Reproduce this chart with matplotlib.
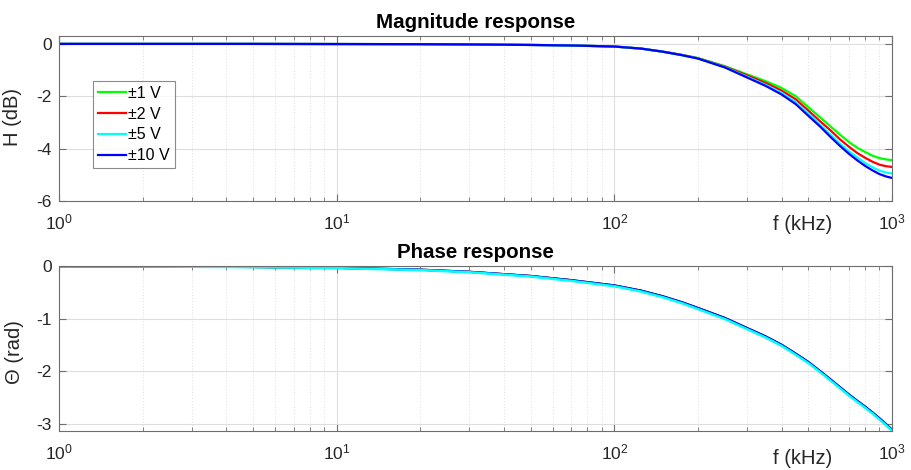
import matplotlib
matplotlib.use("Agg")
import matplotlib.pyplot as plt
from matplotlib.ticker import LogLocator, NullFormatter

plt.rcParams['font.family'] = ['Liberation Sans', 'DejaVu Sans']
plt.rcParams['mathtext.fontset'] = 'custom'
plt.rcParams['mathtext.rm'] = 'Liberation Sans'
plt.rcParams['mathtext.it'] = 'Liberation Sans:italic'
plt.rcParams['axes.unicode_minus'] = False

# frequency axis (kHz)
freq = [1, 2, 5, 10, 20, 30, 50, 70, 100, 125, 150, 175, 200, 250, 300, 350,
        400, 450, 500, 550, 600, 650, 700, 750, 800, 850, 900, 950, 1000]

# magnitude (dB) for each input range
mag_1v = [0, 0, 0, -0.005, -0.01, -0.02, -0.04, -0.06, -0.10, -0.18, -0.30,
          -0.42, -0.54, -0.85, -1.16, -1.42, -1.68, -2.00, -2.42, -2.80,
          -3.15, -3.47, -3.75, -3.97, -4.13, -4.27, -4.36, -4.41, -4.44]
mag_2v = [0, 0, 0, -0.005, -0.01, -0.02, -0.04, -0.06, -0.10, -0.18, -0.30,
          -0.42, -0.55, -0.87, -1.20, -1.49, -1.78, -2.12, -2.55, -2.95,
          -3.30, -3.65, -3.93, -4.17, -4.35, -4.50, -4.61, -4.67, -4.70]
mag_5v = [0, 0, 0, -0.005, -0.01, -0.02, -0.04, -0.06, -0.10, -0.18, -0.30,
          -0.43, -0.555, -0.89, -1.25, -1.56, -1.87, -2.23, -2.67, -3.08,
          -3.46, -3.81, -4.10, -4.34, -4.55, -4.71, -4.84, -4.91, -4.95]
mag_10v = [0, 0, 0, -0.005, -0.01, -0.02, -0.04, -0.06, -0.10, -0.18, -0.30,
           -0.43, -0.56, -0.90, -1.28, -1.60, -1.93, -2.30, -2.75, -3.15,
           -3.55, -3.90, -4.20, -4.45, -4.66, -4.83, -4.97, -5.06, -5.12]

# phase (rad); the +/-5 V trace sits a hair below the others
phase_main = [-0.004, -0.007, -0.018, -0.035, -0.07, -0.11, -0.19, -0.27,
              -0.37, -0.47, -0.58, -0.69, -0.80, -0.99, -1.18, -1.34, -1.50,
              -1.67, -1.83, -2.00, -2.16, -2.31, -2.45, -2.57, -2.68, -2.79,
              -2.90, -3.01, -3.12]
phase_5v = [-0.005, -0.009, -0.021, -0.04, -0.077, -0.118, -0.2, -0.283,
            -0.385, -0.487, -0.598, -0.708, -0.82, -1.01, -1.2, -1.36, -1.52,
            -1.69, -1.85, -2.02, -2.18, -2.33, -2.47, -2.59, -2.70, -2.81,
            -2.92, -3.03, -3.14]

labels = ['\u00b11 V', '\u00b12 V', '\u00b15 V', '\u00b110 V']
colors = ['#00ff00', '#ff0000', '#00ffff', '#0000ff']
mags = [mag_1v, mag_2v, mag_5v, mag_10v]

fig = plt.figure(figsize=(9.11, 4.70), dpi=100)
ax1 = fig.add_axes([0.0648, 0.5723, 0.9144, 0.351])
ax2 = fig.add_axes([0.0648, 0.083, 0.9144, 0.351])


def style_axes(ax):
    ax.set_xscale('log')
    ax.set_xlim(1, 1000)
    ax.xaxis.set_minor_locator(LogLocator(base=10, subs=range(2, 10)))
    ax.xaxis.set_minor_formatter(NullFormatter())
    ax.grid(True, which='major', color='#dedede', linewidth=0.8)
    ax.grid(True, which='minor', axis='x', color='#e4e4e4',
            linestyle=':', linewidth=0.8)
    ax.set_axisbelow(True)
    ax.tick_params(which='both', direction='in', top=True, right=True,
                   colors='#6e6e6e', labelcolor='#262626', labelsize=12.5)
    ax.tick_params(axis='x', which='major', pad=8, length=5)
    ax.tick_params(axis='x', which='minor', length=3)
    ax.tick_params(axis='y', which='major', length=5, pad=5)
    for s in ax.spines.values():
        s.set_color('#6e6e6e')
        s.set_linewidth(0.8)


# magnitude
for m, c, lab in zip(mags, colors, labels):
    ax1.plot(freq, m, color=c, linewidth=1.6, label=lab)
style_axes(ax1)
ax1.set_ylim(-6, 0.3)
ax1.set_yticks([-6, -4, -2, 0])
ax1.set_title('Magnitude response', fontsize=14.8, fontweight='bold', pad=6)
ax1.set_ylabel('H (dB)', fontsize=14.5, color='#262626')
ax1.set_xlabel('f (kHz)', fontsize=14.5, color='#262626')
ax1.xaxis.set_label_coords(0.893, -0.085)
ax1.yaxis.set_label_coords(-0.044, 0.51)
leg = ax1.legend(loc='upper left', bbox_to_anchor=(0.0408, 0.727),
                 fontsize=11.5, frameon=True, fancybox=False, handlelength=1.75,
                 handletextpad=0.15, borderpad=0.3, labelspacing=0.36,
                 borderaxespad=0)
leg.get_frame().set_edgecolor('#6e6e6e')
leg.get_frame().set_linewidth(0.8)

# phase
ax2.plot(freq, phase_main, color=colors[0], linewidth=1.6)
ax2.plot(freq, phase_main, color=colors[1], linewidth=1.6)
ax2.plot(freq, phase_main, color=colors[3], linewidth=1.6)
ax2.plot(freq, phase_5v, color=colors[2], linewidth=1.8)
style_axes(ax2)
ax2.set_ylim(-3.1416, 0)
ax2.set_yticks([-3, -2, -1, 0])
ax2.set_title('Phase response', fontsize=14.8, fontweight='bold', pad=6)
ax2.set_ylabel('\u0398 (rad)', fontsize=14.5, color='#262626')
ax2.set_xlabel('f (kHz)', fontsize=14.5, color='#262626')
ax2.xaxis.set_label_coords(0.893, -0.11)
ax2.yaxis.set_label_coords(-0.042, 0.48)

fig.savefig('out.png', dpi=100)
